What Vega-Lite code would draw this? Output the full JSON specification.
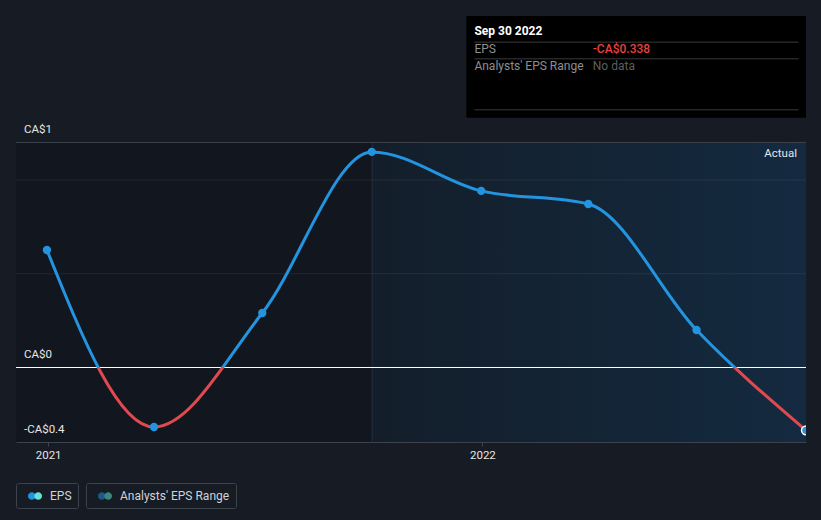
{
  "$schema": "https://vega.github.io/schema/vega-lite/v6.json",
  "width": 790,
  "height": 442,
  "autosize": "none",
  "padding": {"left": 16, "top": 0, "right": 15, "bottom": 78},
  "background": "#161b24",
  "config": {"view": {"stroke": null}, "font": "Roboto", "text": {"font": "Roboto"}},
  "datasets": {
    "eps": [
      {"date": "2020-12-31", "eps": 0.624},
      {"date": "2021-03-31", "eps": -0.32},
      {"date": "2021-06-30", "eps": 0.288},
      {"date": "2021-09-30", "eps": 1.147},
      {"date": "2021-12-31", "eps": 0.939},
      {"date": "2022-03-31", "eps": 0.869},
      {"date": "2022-06-30", "eps": 0.197},
      {"date": "2022-09-30", "eps": -0.338}
    ]
  },
  "layer": [
    {
      "data": {"values": [{"start": "2020-12-05", "end": "2021-09-30"}]},
      "mark": {"type": "rect", "fill": "#12161e"},
      "encoding": {
        "x": {"field": "start", "type": "temporal", "title": null,
          "scale": {"type": "utc", "domain": [{"year": 2020, "month": 12, "date": 5, "utc": true}, {"year": 2022, "month": 9, "date": 30, "utc": true}]},
          "axis": {"title": null, "values": [{"year": 2021, "month": 1, "date": 1, "utc": true}, {"year": 2022, "month": 1, "date": 1, "utc": true}],
            "format": "%Y", "labelColor": "#e6e6e6", "labelFontSize": 11.5, "labelFont": "Roboto", "domainColor": "#3d434c", "tickColor": "#3d434c", "tickSize": 4, "labelPadding": 3, "grid": false}},
        "x2": {"field": "end"},
        "y": {"datum": 1.2, "type": "quantitative", "scale": {"domain": [-0.4, 1.957], "nice": false, "zero": false}, "axis": null},
        "y2": {"datum": -0.4}
      }
    },
    {
      "data": {"values": [{"start": "2021-09-30", "end": "2022-09-30"}]},
      "mark": {"type": "rect", "fill": {"gradient": "linear", "x1": 0, "y1": 0, "x2": 1, "y2": 0, "stops": [{"offset": 0, "color": "#131e2a"}, {"offset": 1, "color": "#142a40"}]}},
      "encoding": {
        "x": {"field": "start", "type": "temporal", "title": null},
        "x2": {"field": "end"},
        "y": {"datum": 1.2, "type": "quantitative"},
        "y2": {"datum": -0.4}
      }
    },
    {
      "data": {"values": [{"d": "2021-09-30"}]},
      "mark": {"type": "rule", "stroke": "#1f2e3d", "strokeWidth": 1, "xOffset": 0.5},
      "encoding": {
        "x": {"field": "d", "type": "temporal", "title": null},
        "y": {"datum": 1.2, "type": "quantitative"},
        "y2": {"datum": -0.4}
      }
    },
    {
      "data": {"values": [{"g": 1.0}, {"g": 0.5}]},
      "mark": {"type": "rule", "stroke": "#ffffff", "strokeOpacity": 0.07, "strokeWidth": 1, "yOffset": 0.5},
      "encoding": {"y": {"field": "g", "type": "quantitative"}}
    },
    {
      "data": {"values": [{}]},
      "mark": {"type": "rule", "stroke": "#3d434c", "strokeWidth": 1, "yOffset": 0.5},
      "encoding": {"y": {"datum": 1.2, "type": "quantitative"}}
    },
    {
      "data": {"values": [{}]},
      "mark": {"type": "rule", "stroke": "#ffffff", "strokeWidth": 1, "yOffset": 0.5},
      "encoding": {"y": {"datum": 0, "type": "quantitative"}}
    },
    {
      "data": {"name": "eps"},
      "mark": {"type": "line", "interpolate": "monotone", "strokeWidth": 3, "clip": true,
        "stroke": {"gradient": "linear", "x1": 0, "y1": 0, "x2": 0, "y2": 1, "stops": [
          {"offset": 0, "color": "#2394df"}, {"offset": 0.7724, "color": "#2394df"},
          {"offset": 0.7724, "color": "#e04a4e"}, {"offset": 1, "color": "#e04a4e"}]}},
      "encoding": {
        "x": {"field": "date", "type": "temporal", "title": null},
        "y": {"field": "eps", "type": "quantitative", "title": null}
      }
    },
    {
      "data": {"name": "eps"},
      "mark": {"type": "circle", "size": 70, "opacity": 1, "color": "#2394df", "clip": true},
      "encoding": {
        "x": {"field": "date", "type": "temporal", "title": null},
        "y": {"field": "eps", "type": "quantitative", "title": null}
      }
    },
    {
      "data": {"name": "eps"},
      "transform": [{"filter": "datum.eps === -0.338"}],
      "mark": {"type": "circle", "size": 80, "opacity": 1, "fill": "#2394df", "stroke": "#ffffff", "strokeWidth": 1.5, "clip": true},
      "encoding": {
        "x": {"field": "date", "type": "temporal", "title": null},
        "y": {"field": "eps", "type": "quantitative", "title": null}
      }
    },
    {
      "data": {"values": [{"v": 1.2, "t": "CA$1"}, {"v": 0, "t": "CA$0"}, {"v": -0.4, "t": "-CA$0.4"}]},
      "mark": {"type": "text", "align": "left", "baseline": "middle", "dx": 8, "dy": -12, "fontSize": 11.5, "color": "#e6e6e6"},
      "encoding": {
        "x": {"datum": {"year": 2020, "month": 12, "date": 5, "utc": true}, "type": "temporal"},
        "y": {"field": "v", "type": "quantitative", "title": null},
        "text": {"field": "t"}
      }
    },
    {
      "data": {"values": [{}]},
      "mark": {"type": "text", "text": "Actual", "align": "right", "baseline": "middle", "dx": -9, "dy": 12, "fontSize": 11.5, "color": "#e6e6e6"},
      "encoding": {
        "x": {"datum": {"year": 2022, "month": 9, "date": 30, "utc": true}, "type": "temporal"},
        "y": {"datum": 1.2, "type": "quantitative"}
      }
    },
    {
      "data": {"values": [{}]},
      "mark": {"type": "rect", "fill": "#000000"},
      "encoding": {
        "x": {"datum": {"year": 2021, "month": 12, "date": 18, "hours": 12, "utc": true}, "type": "temporal"},
        "x2": {"datum": {"year": 2022, "month": 9, "date": 30, "utc": true}},
        "y": {"datum": 1.872, "type": "quantitative"},
        "y2": {"datum": 1.3296}
      }
    },
    {
      "data": {"values": [{}]},
      "mark": {"type": "rule", "stroke": "#3a3a3a", "strokeWidth": 1, "yOffset": 0.5},
      "encoding": {
        "x": {"datum": {"year": 2021, "month": 12, "date": 25, "hours": 7, "utc": true}, "type": "temporal"},
        "x2": {"datum": {"year": 2022, "month": 9, "date": 23, "hours": 18, "utc": true}},
        "y": {"datum": 1.735, "type": "quantitative"}
      }
    },
    {
      "data": {"values": [{}]},
      "mark": {"type": "rule", "stroke": "#3a3a3a", "strokeWidth": 1, "yOffset": 0.5},
      "encoding": {
        "x": {"datum": {"year": 2021, "month": 12, "date": 25, "hours": 7, "utc": true}, "type": "temporal"},
        "x2": {"datum": {"year": 2022, "month": 9, "date": 23, "hours": 18, "utc": true}},
        "y": {"datum": 1.646, "type": "quantitative"}
      }
    },
    {
      "data": {"values": [{}]},
      "mark": {"type": "rule", "stroke": "#3a3a3a", "strokeWidth": 1, "yOffset": 0.5},
      "encoding": {
        "x": {"datum": {"year": 2021, "month": 12, "date": 25, "hours": 7, "utc": true}, "type": "temporal"},
        "x2": {"datum": {"year": 2022, "month": 9, "date": 23, "hours": 18, "utc": true}},
        "y": {"datum": 1.374, "type": "quantitative"}
      }
    },
    {
      "data": {"values": [{}]},
      "mark": {"type": "text", "text": "Sep 30 2022", "align": "left", "baseline": "middle", "fontSize": 12, "fontWeight": "bold", "color": "#ffffff"},
      "encoding": {
        "x": {"datum": {"year": 2021, "month": 12, "date": 25, "hours": 7, "utc": true}, "type": "temporal"},
        "y": {"datum": 1.792, "type": "quantitative"}
      }
    },
    {
      "data": {"values": [{}]},
      "mark": {"type": "text", "text": "EPS", "align": "left", "baseline": "middle", "fontSize": 12, "color": "#8f8f8f"},
      "encoding": {
        "x": {"datum": {"year": 2021, "month": 12, "date": 25, "hours": 7, "utc": true}, "type": "temporal"},
        "y": {"datum": 1.694, "type": "quantitative"}
      }
    },
    {
      "data": {"values": [{}]},
      "mark": {"type": "text", "text": "Analysts' EPS Range", "align": "left", "baseline": "middle", "fontSize": 12, "color": "#8f8f8f"},
      "encoding": {
        "x": {"datum": {"year": 2021, "month": 12, "date": 25, "hours": 7, "utc": true}, "type": "temporal"},
        "y": {"datum": 1.605, "type": "quantitative"}
      }
    },
    {
      "data": {"values": [{}]},
      "mark": {"type": "text", "text": "-CA$0.338", "align": "left", "baseline": "middle", "fontSize": 12, "fontWeight": 500, "color": "#e8403f"},
      "encoding": {
        "x": {"datum": {"year": 2022, "month": 4, "date": 3, "hours": 19, "utc": true}, "type": "temporal"},
        "y": {"datum": 1.694, "type": "quantitative"}
      }
    },
    {
      "data": {"values": [{}]},
      "mark": {"type": "text", "text": "No data", "align": "left", "baseline": "middle", "fontSize": 12, "color": "#5e5e5e"},
      "encoding": {
        "x": {"datum": {"year": 2022, "month": 4, "date": 3, "hours": 19, "utc": true}, "type": "temporal"},
        "y": {"datum": 1.605, "type": "quantitative"}
      }
    },
    {
      "data": {"values": []},
      "mark": {"type": "circle", "opacity": 1},
      "encoding": {
        "fill": {"field": "s", "type": "nominal",
          "scale": {"domain": ["EPS"], "range": ["#2394df"]},
          "legend": {"orient": "none", "legendX": 0, "legendY": 483, "title": null,
            "symbolType": "M-1,0A0.55,0.55,0,1,0,0.1,0A0.55,0.55,0,1,0,-1,0Z", "symbolSize": 196, "symbolStrokeWidth": 0,
            "symbolOffset": 6, "labelOffset": 8, "padding": 6, "strokeColor": "#3d434c", "cornerRadius": 2,
            "labelColor": "#cfd3d8", "labelFontSize": 12, "labelFont": "Roboto", "labelExpr": "datum.label + '  '"}}
      }
    },
    {
      "data": {"values": []},
      "mark": {"type": "circle", "opacity": 1},
      "encoding": {
        "fill": {"field": "s2", "type": "nominal",
          "scale": {"domain": ["EPS"], "range": ["#62e3d6"]},
          "legend": {"orient": "none", "legendX": 0, "legendY": 483, "title": null,
            "symbolType": "M-0.1,0A0.55,0.55,0,1,0,1,0A0.55,0.55,0,1,0,-0.1,0Z", "symbolSize": 196, "symbolStrokeWidth": 0,
            "symbolOffset": 6, "labelOffset": 8, "padding": 6,
            "labelColor": "#cfd3d8", "labelFontSize": 12, "labelFont": "Roboto", "labelExpr": "''"}}
      }
    },
    {
      "data": {"values": []},
      "mark": {"type": "circle", "opacity": 1},
      "encoding": {
        "fill": {"field": "s3", "type": "nominal",
          "scale": {"domain": ["Analysts' EPS Range"], "range": ["#1d5a86"]},
          "legend": {"orient": "none", "legendX": 70, "legendY": 483, "title": null,
            "symbolType": "M-1,0A0.55,0.55,0,1,0,0.1,0A0.55,0.55,0,1,0,-1,0Z", "symbolSize": 196, "symbolStrokeWidth": 0,
            "symbolOffset": 6, "labelOffset": 8, "padding": 6, "strokeColor": "#3d434c", "cornerRadius": 2,
            "labelColor": "#cfd3d8", "labelFontSize": 12, "labelFont": "Roboto", "labelExpr": "datum.label + ' '"}}
      }
    },
    {
      "data": {"values": []},
      "mark": {"type": "circle", "opacity": 1},
      "encoding": {
        "fill": {"field": "s4", "type": "nominal",
          "scale": {"domain": ["Analysts' EPS Range"], "range": ["#3c8580"]},
          "legend": {"orient": "none", "legendX": 70, "legendY": 483, "title": null,
            "symbolType": "M-0.1,0A0.55,0.55,0,1,0,1,0A0.55,0.55,0,1,0,-0.1,0Z", "symbolSize": 196, "symbolStrokeWidth": 0,
            "symbolOffset": 6, "labelOffset": 8, "padding": 6,
            "labelColor": "#cfd3d8", "labelFontSize": 12, "labelFont": "Roboto", "labelExpr": "''"}}
      }
    }
  ],
  "resolve": {"scale": {"fill": "independent"}, "legend": {"fill": "independent"}}
}
